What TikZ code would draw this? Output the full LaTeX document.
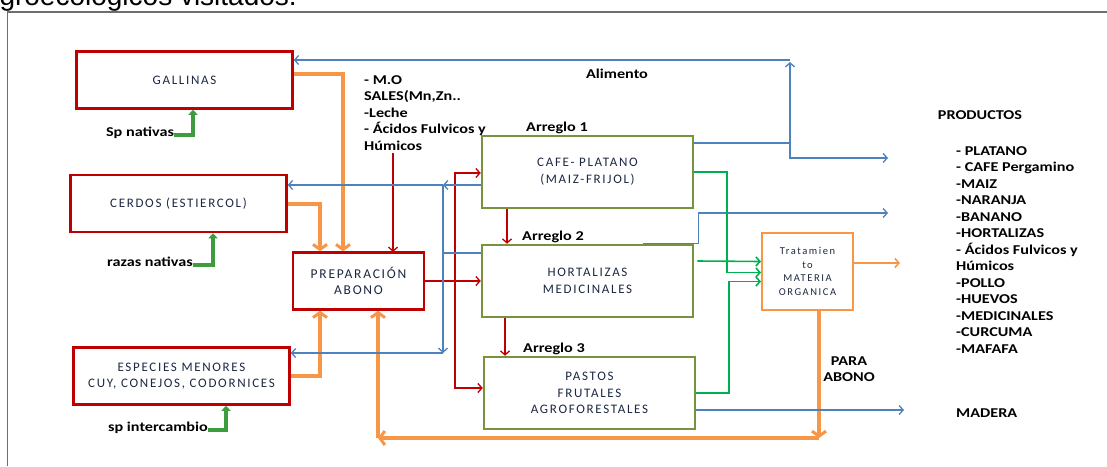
\documentclass[tikz,border=0pt]{standalone}
\usepackage{fontspec}
\setmainfont{Carlito}
\newfontfamily\boxfont[LetterSpace=13]{Carlito}
\newfontfamily\tratfont[LetterSpace=15]{Carlito}
\newfontfamily\lblfont[FakeStretch=1.2]{Carlito}
\newfontfamily\titlefont{Liberation Sans}
\usetikzlibrary{arrows.meta,positioning}
\definecolor{boxred}{HTML}{C00000}
\definecolor{boxgreen}{HTML}{77933C}
\definecolor{boxtext}{HTML}{1C2841}
\definecolor{flowblue}{HTML}{4F81BD}
\definecolor{flowgreen}{HTML}{00B050}
\definecolor{abono}{HTML}{F79646}
\definecolor{icongreen}{HTML}{3E9B3E}
\definecolor{frame}{HTML}{6E6E6E}

\begin{document}
\begin{tikzpicture}[x=1pt,y=-1pt,
  animal/.style={draw=boxred,line width=2.5pt,minimum width=216pt,minimum height=57pt,align=center,text=boxtext,font=\boxfont\fontsize{13}{16.7}\selectfont},
  prepbox/.style={animal,minimum width=131pt,font=\boxfont\fontsize{13.5}{16.7}\selectfont},
  arreglo/.style={draw=boxgreen,line width=2.5pt,minimum width=211pt,minimum height=72pt,align=center,text=boxtext,font=\boxfont\fontsize{13}{16.7}\selectfont},
  tratbox/.style={draw=abono,line width=2pt,minimum width=91pt,minimum height=77pt,align=center,text=boxtext,font=\tratfont\fontsize{10.5}{13.5}\selectfont},
  lbl/.style={inner sep=0pt,font=\lblfont\bfseries\fontsize{13.5}{16.5}\selectfont},
  redflow/.style={draw=boxred,line width=1.3pt,-{Straight Barb[length=4pt,width=9pt]}},
  blueflow/.style={draw=flowblue,line width=1.3pt,-{Straight Barb[length=4pt,width=9pt]}},
  blueline/.style={draw=flowblue,line width=1.3pt},
  greenflow/.style={draw=flowgreen,line width=1.6pt,-{Straight Barb[length=4pt,width=9pt]}},
  orangeflow/.style={draw=abono,line width=4pt,-{Straight Barb[length=5pt,width=14pt,line width=3pt]}},
  icon/.style={draw=icongreen,line width=4pt,-{Triangle[length=5pt,width=9pt]}}]
  \fill[white] (0,0) rectangle (1107,466);
  \useasboundingbox (0,0) rectangle (1107,466);
  \clip (0,0) rectangle (1107,466);
  \node[anchor=base east,inner sep=0pt,font=\titlefont\fontsize{28}{30}\selectfont] (title) at (297,5) {agroecológicos visitados.};
  \draw[frame,line width=1.6pt] (7.5,466) -- (7.5,12) -- (1107,12);

  \node[animal] (gallinas) at (184.5,80) {GALLINAS};
  \node[animal] (cerdos) at (178.5,203.5) {CERDOS (ESTIERCOL)};
  \node[animal] (especies) at (181.5,376) {ESPECIES MENORES\\CUY, CONEJOS, CODORNICES};
  \node[prepbox] (prep) at (358.5,281) {PREPARACIÓN\\ABONO};
  \node[arreglo] (cafe) at (587.5,172) {CAFE- PLATANO\\(MAIZ-FRIJOL)};
  \node[arreglo] (hort) at (587.5,281) {HORTALIZAS\\MEDICINALES};
  \node[arreglo] (pastos) at (589.5,393) {PASTOS\\FRUTALES\\AGROFORESTALES};
  \node[tratbox] (trat) at (807.5,271.5) {Tratamien\\to\\MATERIA\\ORGANICA};

  \node[lbl] (arr1) at (557,128) {Arreglo 1};
  \node[lbl] (arr2) at (553,237) {Arreglo 2};
  \node[lbl] (arr3) at (554,349) {Arreglo 3};
  \node[lbl] (alimento) at (617,74) {Alimento};
  \node[lbl,anchor=north west,align=left] (mo) at (364,75) {- M.O\\SALES(Mn,Zn..\\-Leche\\- Ácidos Fulvicos y\\Húmicos};
  \node[lbl,align=center] (para) at (849,369) {PARA\\ABONO};
  \node[lbl] (productos) at (980,115) {PRODUCTOS};
  \foreach \t [count=\i] in {- PLATANO,- CAFE Pergamino,-MAIZ,-NARANJA,-BANANO,-HORTALIZAS,- Ácidos Fulvicos y,Húmicos,-POLLO,-HUEVOS,-MEDICINALES,-CURCUMA,-MAFAFA}
    \node[lbl,anchor=base west] (p\i) at (956,{155+16.5*(\i-1)}) {\t};
  \node[lbl,anchor=base west] (madera) at (956,417) {MADERA};

  \node[lbl] (spn) at (140,133) {Sp nativas};
  \node[lbl] (razas) at (150,262) {razas nativas};
  \node[lbl] (spi) at (158,428) {sp intercambio};
  \draw[icon] ([yshift=-2pt]spn.east) -| ([xshift=8.5pt]gallinas.south);
  \draw[icon] ([yshift=-3pt]razas.east) -| ([xshift=34.5pt]cerdos.south);
  \draw[icon] ([yshift=-2pt]spi.east) -| ([xshift=44.5pt]especies.south);

  % abono
  \draw[orangeflow] ([yshift=6pt]gallinas.east) -| ([xshift=-15.5pt]prep.north);
  \draw[orangeflow] (cerdos.east) -| ([xshift=-38.5pt]prep.north);
  \draw[orangeflow] (especies.east) -| ([xshift=-38.5pt]prep.south);
  \coordinate (ab1) at (819,438);
  \coordinate (ab2) at (378,438);
  \draw[orangeflow] ([xshift=11.5pt]trat.south) -- (ab1);
  \draw[orangeflow] (ab1) -- (ab2);
  \draw[orangeflow] (ab2) -- (ab2 |- prep.south);
  \coordinate (tout) at (900,263);
  \draw[draw=abono,line width=1.6pt,-{Straight Barb[length=4pt,width=9pt]}] (trat.east |- tout) -- (tout);

  % red
  \draw[redflow] (393,153) -- (393,252);
  \coordinate (rs) at (455,281);
  \draw[redflow] (prep.east) -- (hort.west);
  \draw[redflow] (rs) |- ([yshift=-1pt]cafe.west);
  \draw[redflow] (rs) |- ([yshift=5pt]pastos.west);
  \draw[redflow] ([xshift=-80.5pt]cafe.south) -- ([xshift=-80.5pt]hort.north);
  \draw[redflow] ([xshift=-82.5pt]hort.south) -- ([xshift=-84.5pt]pastos.north);

  % blue
  \coordinate (ali) at (790,60);
  \coordinate (b1) at (790,143);
  \coordinate (out1) at (888,158);
  \coordinate (out2) at (888,213);
  \coordinate (out3) at (904,410);
  \draw[blueflow] (ali) -- (gallinas.east |- ali);
  \draw[blueflow] ([yshift=29pt]cafe.east) -- (b1) -- ([yshift=-2pt]ali);
  \draw[blueflow] (b1) |- (out1);
  \draw[blueflow] ([xshift=55pt]hort.north) -- ([xshift=4pt]hort.north east) |- (out2);
  \draw[blueflow] ([yshift=-17pt]pastos.east) -- (out3);
  \coordinate (bl) at (443,185);
  \coordinate (bl2) at (443,353);
  \draw[blueflow] ([yshift=-13pt]cafe.west) -- (bl);
  \draw[blueflow] (bl) -- (cerdos.east |- bl);
  \draw[blueline] ([yshift=28pt]hort.west) -| (bl);
  \draw[blueflow] (bl) -- (bl2);
  \draw[blueflow] (bl2) -- (especies.east |- bl2);

  % green
  \draw[greenflow] (cafe.east) -| ([xshift=-34pt,yshift=-1pt]trat.west) -- ([yshift=-1pt]trat.west);
  \draw[greenflow] ([xshift=3pt,yshift=20pt]hort.east) -- ([yshift=10pt]trat.west);
  \draw[greenflow] (pastos.east) -| ([xshift=-32pt,yshift=-10pt]trat.west) -- ([yshift=-10pt]trat.west);
\end{tikzpicture}
\end{document}
